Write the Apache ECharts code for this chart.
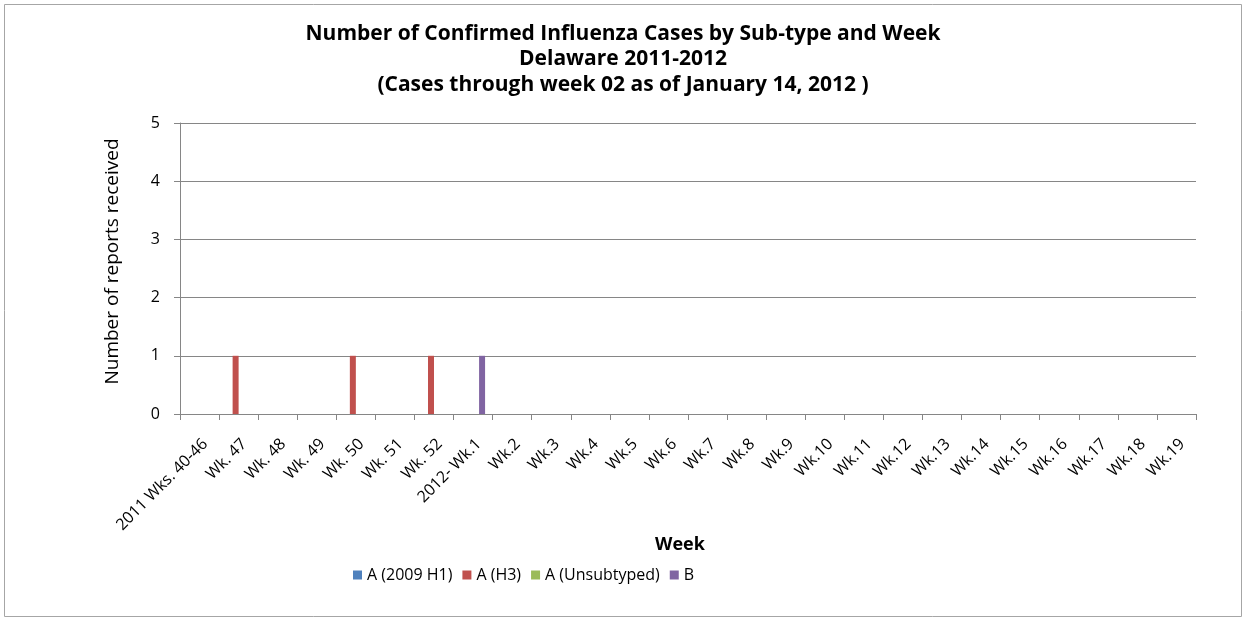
<!DOCTYPE html>
<html><head><meta charset="utf-8">
<script src="https://cdn.jsdelivr.net/npm/echarts@6/dist/echarts.min.js"></script>
<style>html,body{margin:0;padding:0;background:#fff}#c{width:1246px;height:621px}</style>
</head><body><div id="c"></div>
<script>
var categories = ["2011 Wks. 40-46","Wk. 47","Wk. 48","Wk. 49","Wk. 50","Wk. 51","Wk. 52","2012- Wk.1","Wk.2","Wk.3","Wk.4","Wk.5","Wk.6","Wk.7","Wk.8","Wk.9","Wk.10","Wk.11","Wk.12","Wk.13","Wk.14","Wk.15","Wk.16","Wk.17","Wk.18","Wk.19"];
var seriesNames = ["A (2009 H1)","A (H3)","A (Unsubtyped)","B"];
var h1 = [0,0,0,0,0,0,0,0,0,0,0,0,0,0,0,0,0,0,0,0,0,0,0,0,0,0];
var h3 = [0,1,0,0,1,0,1,0,0,0,0,0,0,0,0,0,0,0,0,0,0,0,0,0,0,0];
var unsub = [0,0,0,0,0,0,0,0,0,0,0,0,0,0,0,0,0,0,0,0,0,0,0,0,0,0];
var fluB = [0,0,0,0,0,0,0,1,0,0,0,0,0,0,0,0,0,0,0,0,0,0,0,0,0,0];
var yTicks = [0,1,2,3,4,5];
var colors = ["#4F81BD","#C0504D","#9BBB59","#8064A2"];
var font = "Open Sans";
var chart = echarts.init(document.getElementById('c'), null, {renderer:'canvas'});
var data = [h1,h3,unsub,fluB];
chart.setOption({
  animation:false,
  color:colors,
  textStyle:{fontFamily:font},
  title:{text:"Number of Confirmed Influenza Cases by Sub-type and Week\nDelaware 2011-2012\n(Cases through week 02 as of January 14, 2012 )",
    left:'center', top:16,
    textStyle:{fontFamily:font,fontWeight:'bold',fontSize:21,lineHeight:25.5,color:'#000'}},
  graphic:[{type:'rect',shape:{x:4.5,y:4.5,width:1237,height:612},style:{fill:null,stroke:'#a6a6a6',lineWidth:1}}],
  legend:{left:348,top:562,itemWidth:9,itemHeight:9,itemGap:10,icon:'rect',
    data:seriesNames,textStyle:{fontFamily:font,fontSize:16,color:'#000'}},
  grid:{left:180,right:50,top:123,bottom:207},
  xAxis:{type:'category',data:categories,
    name:'Week',nameLocation:'middle',nameGap:110,
    nameTextStyle:{fontFamily:font,fontWeight:'bold',fontSize:18,color:'#000',padding:[0,16,0,0]},
    axisLine:{lineStyle:{color:'#868686'}},
    axisTick:{show:true,length:6,lineStyle:{color:'#868686'}},
    axisLabel:{rotate:45,interval:0,fontSize:16,color:'#000',fontFamily:font,margin:22,verticalAlign:'top'}},
  yAxis:{type:'value',min:0,max:5,interval:1,
    name:'Number of reports received',nameLocation:'middle',nameGap:58,
    nameTextStyle:{fontFamily:font,fontSize:19,color:'#000',padding:[0,0,0,14]},
    axisLine:{show:true,lineStyle:{color:'#868686'}},
    axisTick:{show:true,length:6,lineStyle:{color:'#868686'}},
    axisLabel:{fontSize:16,color:'#000',fontFamily:font,margin:20,
      formatter:function(v){return yTicks.indexOf(v)>=0?String(v):'';}},
    splitLine:{lineStyle:{color:'#868686'}}},
  series:seriesNames.map(function(n,i){return {name:n,type:'bar',data:data[i],barWidth:6,barGap:'0%'};})
});
</script></body></html>
